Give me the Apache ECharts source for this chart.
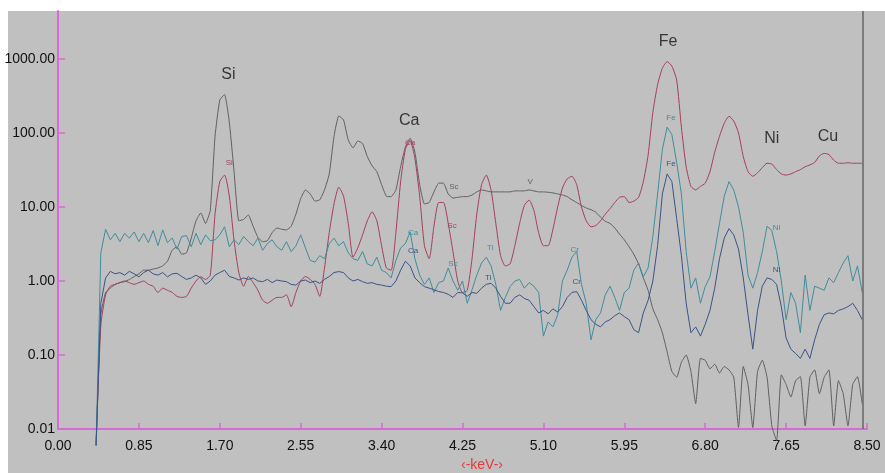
<!DOCTYPE html>
<html>
<head>
<meta charset="utf-8">
<script src="https://cdn.jsdelivr.net/npm/echarts@6/dist/echarts.min.js"></script>
<style>
  html, body { margin: 0; padding: 0; background: #fff; }
  #chart { width: 885px; height: 473px; }
</style>
</head>
<body>
<div id="chart"></div>
<script>
// channel energies, 0.40 .. 8.45 keV in 0.05 keV steps
const energy = [];
for (let i = 0; i < 162; i++) energy.push(+(0.40 + i * 0.05).toFixed(2));

const xTicks = [0, 0.85, 1.70, 2.55, 3.40, 4.25, 5.10, 5.95, 6.80, 7.65, 8.50];
const yTicks = [0.01, 0.1, 1, 10, 100, 1000];

const grayCounts = [
  0.006, 0.35, 0.7, 0.8, 0.9, 0.95, 0.98, 1.05, 1.15, 1.25,
  1.4, 1.4, 1.45, 1.5, 1.6, 1.85, 2.6, 2.9, 2.3, 2.4,
  3.8, 6.5, 8.3, 6.0, 9, 90, 280, 330, 140, 30,
  6.5, 6.8, 7.8, 5.5, 3.9, 3.4, 3.5, 4.5, 5.2, 5.0,
  4.9, 5.5, 8, 13, 17, 15, 12, 12.5, 17, 28,
  90, 170, 150, 80, 63, 78, 72, 48, 36, 30,
  20, 14, 13.8, 17, 35, 65, 85, 55, 20, 11,
  11.5, 16, 21, 21, 15, 13.2, 13.5, 13.8, 13.8, 14.5,
  16, 17, 16.5, 16, 16, 16, 16, 16, 16.5, 16.5,
  16.5, 17, 16.5, 16, 16, 15.8, 15.5, 15, 14.5, 13.8,
  12.5, 11.5, 10.5, 9.7, 9.2, 8.5, 7.3, 6.4, 6.0, 5.2,
  4.3, 3.6, 2.9, 2.3, 1.7, 1.1, 0.75, 0.42, 0.3, 0.2,
  0.11, 0.06, 0.05, 0.08, 0.1, 0.06, 0.022, 0.09, 0.085, 0.065,
  0.075, 0.057, 0.07, 0.063, 0.05, 0.0105, 0.07, 0.04, 0.0105, 0.06,
  0.085, 0.05, 0.011, 0.007, 0.054, 0.04, 0.027, 0.045, 0.051, 0.011,
  0.05, 0.063, 0.03, 0.05, 0.063, 0.011, 0.045, 0.03, 0.011, 0.04,
  0.051, 0.022
];

const redCounts = [
  0.006, 0.25, 0.65, 0.85, 0.9, 0.95, 1.0, 0.95, 0.9, 0.95,
  1.0, 0.9, 0.85, 0.7, 0.8, 0.75, 0.7, 0.62, 0.6, 0.62,
  0.8, 1.0, 1.14, 1.05, 1.2, 8, 22, 27, 14, 3.5,
  1.3, 0.85, 1.15, 0.95, 0.75, 0.55, 0.5, 0.55, 0.6, 0.6,
  0.65, 0.45, 0.7, 1.0, 1.15, 1.05, 0.9, 0.62, 1.5, 4.5,
  11, 18.5, 14, 6, 2.1, 2.8, 4.2, 6.5, 8.6, 6.5,
  3.0, 1.5, 1.4, 4.5, 22, 60, 78, 45, 14, 3,
  2.0, 5.5, 11.5, 11.5, 6, 2.5, 1.0, 0.7, 0.75, 2,
  8, 20, 27, 17, 6, 2.2, 1.6, 1.7, 3, 6,
  10.5, 12.4, 9, 4.5, 3.0, 3.0, 5, 10, 18, 24,
  26, 20, 10, 6.5, 5.4, 5.6, 6.5, 8, 9.5, 11.5,
  13.5, 13.8, 11.5, 12, 13.5, 22, 50, 190, 450, 750,
  920, 800, 520, 120, 35, 19, 17, 19, 21, 30,
  55, 90, 135, 168, 145, 100, 48, 30, 26, 29,
  34, 39, 38, 32, 28, 27, 28, 30, 32, 35,
  37, 40, 49, 53, 51, 43, 39, 39, 39.5, 39,
  39, 39
];

const tealCounts = [
  0.006, 2.4, 5.0, 3.6, 4.4, 3.4, 4.4, 3.8, 4.6, 3.4,
  4.4, 3.3, 4.8, 3.0, 4.9, 3.3, 3.8, 2.7, 4.0, 4.1,
  2.9, 4.4, 3.1, 4.2, 3.5, 3.6, 4.2, 5.4, 2.9, 3.6,
  3.1, 4.0, 3.4, 3.0, 3.8, 2.6, 3.2, 3.6, 2.9, 2.6,
  3.4, 2.5, 3.0, 4.2, 2.8, 1.9, 1.8, 2.2, 2.0, 3.2,
  3.8, 3.0, 3.4, 2.4, 2.0, 1.9, 2.5, 1.7, 1.6, 2.1,
  1.4, 1.3, 1.1, 1.9, 2.8, 3.2, 4.6, 2.0, 1.2, 0.9,
  1.1, 0.7, 0.95, 1.0, 1.5, 1.0, 0.75, 1.0, 0.5, 0.76,
  1.2, 1.75, 2.1, 1.6, 0.9, 0.4, 0.6, 0.84, 1.0, 1.05,
  0.8, 0.95, 0.85, 0.7, 0.18, 0.28, 0.24, 0.35, 1.0, 1.4,
  2.1, 2.5, 0.9, 0.5, 0.16, 0.3, 0.37, 0.65, 0.85, 0.6,
  0.4, 0.7, 0.8, 1.4, 1.75, 1.14, 1.5, 4, 15, 60,
  120, 95, 40, 15, 2.5, 0.8, 1.1, 0.5, 0.84, 1.14,
  2.5, 6, 14, 22, 17, 10, 4.5, 1.2, 0.8, 1.3,
  2.5, 5.5, 4.8, 2.5, 1.0, 0.3, 0.7, 0.5, 0.2, 1.2,
  0.4, 0.85, 0.8, 0.75, 1.1, 0.95, 1.3, 1.75, 2.2, 1.0,
  1.6, 0.7
];

const blueCounts = [
  0.006, 0.5, 1.1, 1.35, 1.25, 1.3, 1.2, 1.35, 1.25, 1.14,
  1.3, 1.4, 1.25, 1.2, 1.3, 1.14, 1.25, 1.27, 1.15, 1.05,
  1.1, 1.2, 1.1, 0.9, 1.0, 1.2, 1.3, 1.4, 1.15, 1.1,
  1.03, 1.1, 1.05, 1.1, 1.0, 0.98, 1.05, 0.95, 1.03, 1.0,
  0.98, 0.9, 0.88, 1.0, 1.03, 0.95, 1.0, 0.93, 1.05, 1.15,
  1.3, 1.34, 1.3, 1.1, 1.0, 1.05, 0.98, 0.93, 0.95, 0.9,
  0.88, 0.85, 0.84, 1.0, 1.4, 1.85, 1.6, 1.1, 0.95, 0.84,
  0.8, 0.76, 0.72, 0.7, 0.66, 0.6, 0.7, 0.69, 0.62, 0.7,
  0.68, 0.8, 0.9, 0.93, 0.8, 0.62, 0.5, 0.5, 0.6, 0.65,
  0.58, 0.55, 0.45, 0.37, 0.4, 0.36, 0.42, 0.38, 0.45, 0.6,
  0.7, 0.72, 0.55, 0.4, 0.3, 0.26, 0.24, 0.28, 0.3, 0.34,
  0.37, 0.33, 0.3, 0.22, 0.2, 0.37, 0.55, 1.0, 3, 15,
  28, 22, 7, 2.2, 0.5, 0.2, 0.24, 0.18, 0.26, 0.4,
  0.8, 2.0, 3.8, 5.1, 4.2, 2.7, 1.1, 0.35, 0.12, 0.4,
  0.85, 1.1, 1.05, 0.9, 0.45, 0.17, 0.12, 0.105, 0.09, 0.12,
  0.09, 0.16, 0.26, 0.35, 0.37, 0.36, 0.4, 0.42, 0.45, 0.5,
  0.4, 0.3
];

// big element names over the peaks: name, keV, counts where the text sits
const peakNames = ['Si', 'Ca', 'Fe', 'Ni', 'Cu'];
const peakKeV = [1.79, 3.69, 6.41, 7.50, 8.09];
const peakAt = [610, 145, 1700, 83, 88];

// small per-spectrum tags: [text, keV, counts]
const grayTags = [['Sc', 4.16, 18.6], ['V', 4.96, 21.8]];
const redTags = [['Si', 1.80, 39], ['Ca', 3.70, 73], ['Sc', 4.14, 5.5]];
const tealTags = [['Ca', 3.73, 4.45], ['Sc', 4.15, 1.7], ['Ti', 4.54, 2.8], ['Cr', 5.43, 2.6], ['Fe', 6.44, 160], ['Ni', 7.55, 5.2]];
const blueTags = [['Ca', 3.73, 2.54], ['Ti', 4.52, 1.1], ['Cr', 5.45, 0.97], ['Fe', 6.44, 38], ['Ni', 7.55, 1.41]];

const cursorKeV = 8.455;

const FONT = 'Liberation Sans, Arial, sans-serif';
const AXIS = '#d86ad8';

function pairs(vals) {
  return vals.map((v, i) => [energy[i], v]);
}

function tagPoints(tags, color) {
  return {
    symbol: 'circle',
    symbolSize: 1,
    silent: true,
    itemStyle: { color: 'rgba(0,0,0,0)' },
    label: { show: true, position: 'inside', formatter: '{b}', color: color, fontSize: 8, fontFamily: FONT },
    data: tags.map(t => ({ name: t[0], coord: [t[1], t[2]] }))
  };
}

function spectrum(name, vals, color, tags, smooth) {
  return {
    name: name,
    type: 'line',
    data: pairs(vals),
    showSymbol: false,
    clip: false,
    smooth: smooth,
    lineStyle: { color: color, width: 1 },
    itemStyle: { color: color },
    markPoint: tagPoints(tags, color)
  };
}

const chart = echarts.init(document.getElementById('chart'), null, { renderer: 'canvas' });

const series = [
  spectrum('gray', grayCounts, '#606060', grayTags, 0.15),
  spectrum('red', redCounts, '#a63e5c', redTags, 0.2),
  spectrum('teal', tealCounts, '#3f8e9b', tealTags, false),
  spectrum('blue', blueCounts, '#3a5488', blueTags, false)
];

// cursor line and the big element names
series[0].markLine = {
  silent: true,
  symbol: ['none', 'none'],
  label: { show: false },
  lineStyle: { color: '#666', width: 1.5, type: 'solid' },
  data: [{ xAxis: cursorKeV }]
};
series.push({
  name: 'peaks',
  type: 'scatter',
  data: peakNames.map((n, i) => ({ name: n, value: [peakKeV[i], peakAt[i]] })),
  symbolSize: 1,
  itemStyle: { color: 'rgba(0,0,0,0)' },
  silent: true,
  label: { show: true, position: 'inside', formatter: '{b}', color: '#111', fontSize: 16, fontFamily: FONT }
});

chart.setOption({
  animation: false,
  backgroundColor: '#fff',
  graphic: [
    { type: 'rect', z: -10, shape: { x: 8, y: 11, width: 877, height: 462 }, style: { fill: '#c0c0c0' } },
    { type: 'text', left: 461, top: 458, style: { text: '‹-keV-›', fill: '#e53a3a', font: '14px ' + FONT } }
  ],
  grid: { left: 58, right: 18, top: 11, bottom: 44 },
  xAxis: {
    type: 'value',
    min: 0,
    max: 8.5,
    interval: 0.85,
    axisLine: { lineStyle: { color: AXIS, width: 2 } },
    axisTick: { inside: true, length: 6, lineStyle: { color: AXIS, width: 1.5 } },
    axisLabel: { color: '#111', fontSize: 14, fontFamily: FONT, margin: 10, formatter: v => v.toFixed(2) },
    splitLine: { show: false }
  },
  yAxis: {
    type: 'log',
    min: 0.01,
    max: 4450,
    axisLine: { show: true, lineStyle: { color: AXIS, width: 2 } },
    axisTick: { show: true, inside: true, length: 7, customValues: yTicks, lineStyle: { color: AXIS, width: 1.5 } },
    axisLabel: {
      color: '#111', fontSize: 14, fontFamily: FONT, margin: 3,
      customValues: yTicks,
      formatter: v => yTicks.some(t => Math.abs(t - v) / t < 1e-6) ? v.toFixed(2) : ''
    },
    splitLine: { show: false }
  },
  series: series
});
</script>
</body>
</html>
